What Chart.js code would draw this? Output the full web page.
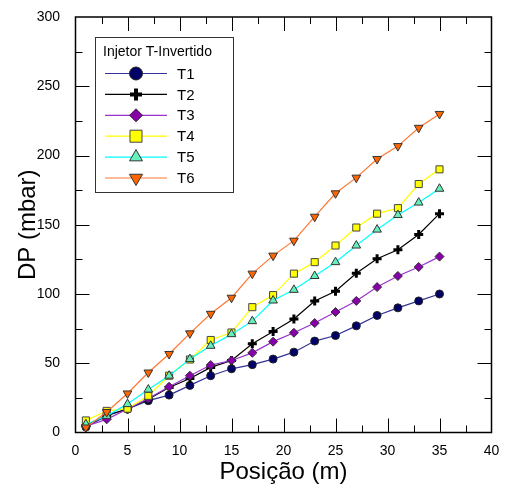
<!DOCTYPE html>
<html lang="pt-br">
<head>
    <meta charset="UTF-8">
    <title>DP x Posição</title>
    <script src="https://cdn.jsdelivr.net/npm/chart.js"></script>
    <style>
        html, body { margin: 0; padding: 0; background: #fff; }
        canvas { display: block; }
    </style>
</head>
<body>
    <canvas id="grafico" width="505" height="487"></canvas>
<script>
    // dados
    const posicoes = [1, 3, 5, 7, 9, 11, 13, 15, 17, 19, 21, 23, 25, 27, 29, 31, 33, 35]
    const t1 = [4, 12, 17, 23, 27, 34, 41, 46, 49, 53, 58, 66, 70, 77, 84.5, 90, 95, 100]
    const t2 = [5, 12.5, 17, 24, 32.5, 39, 47, 52, 64, 73, 82, 95, 102, 115, 125.5, 132, 143, 158]
    const t3 = [4.5, 9.5, 17, 24.5, 33, 41, 48.7, 52, 57.5, 65.6, 72, 79, 87, 95, 105, 113, 119.5, 127]
    const t4 = [8.7, 15.6, 17.2, 26.5, 41, 52.7, 66.8, 72.2, 90.5, 99.2, 114.7, 123, 135, 148, 158, 162, 179.4, 190]
    const t5 = [6, 12, 20.5, 31, 41, 53, 62.6, 71, 80.4, 95.3, 103, 113, 123, 135, 146.5, 157, 166, 176]
    const t6 = [3.6, 14.8, 28.2, 43.3, 56.7, 71.6, 85.7, 97.3, 114.7, 127.7, 138.5, 155.8, 172.7, 184, 197.5, 206.8, 220, 230]

    const nomes = ['T1', 'T2', 'T3', 'T4', 'T5', 'T6']
    const valores = [t1, t2, t3, t4, t5, t6]
    const xTicks = [0, 5, 10, 15, 20, 25, 30, 35, 40]
    const yTicks = [0, 50, 100, 150, 200, 250, 300]
    const tituloLegenda = 'Injetor T-Invertido'

    const fonte = '"Liberation Sans", Arial, sans-serif'

    // estilo de cada serie
    const estilos = [
        { linha: '#333399', fundo: '#000066', borda: '#222', ponto: 'circle', raio: 4, rot: 0, bw: 1, legRaio: 6.5, legBw: 1 },
        { linha: '#000000', fundo: '#000000', borda: '#000', ponto: 'cross', raio: 4.5, rot: 0, bw: 3, legRaio: 6, legBw: 4 },
        { linha: '#9933cc', fundo: '#8800aa', borda: '#333', ponto: 'rectRot', raio: 4.5, rot: 0, bw: 1, legRaio: 6.5, legBw: 1 },
        { linha: '#ffff00', fundo: '#ffff00', borda: '#444', ponto: 'rect', raio: 5, rot: 0, bw: 1, legRaio: 8.5, legBw: 1 },
        { linha: '#00ffff', fundo: '#66eebb', borda: '#333', ponto: 'triangle', raio: 5, rot: 0, bw: 1, legRaio: 7.5, legBw: 1 },
        { linha: '#ff7733', fundo: '#ff6600', borda: '#333', ponto: 'triangle', raio: 5, rot: 180, bw: 1, legRaio: 7.5, legBw: 1 }
    ]

    const datasets = nomes.map(function (nome, i) {
        const e = estilos[i]
        return {
            label: nome,
            data: posicoes.map((p, j) => ({ x: p, y: valores[i][j] })),
            borderColor: e.linha,
            borderWidth: 1.2,
            backgroundColor: e.fundo,
            pointStyle: e.ponto,
            pointRadius: e.raio,
            pointRotation: e.rot,
            pointBackgroundColor: e.fundo,
            pointBorderColor: e.ponto == 'cross' ? '#000' : e.borda,
            pointBorderWidth: e.bw,
            tension: 0,
            order: nomes.length - i
        }
    })

    // moldura e tracinhos para dentro nos quatro lados
    const moldura = {
        id: 'moldura',
        afterDraw(chart) {
            const ctx = chart.ctx
            const a = chart.chartArea
            const sx = chart.scales.x
            const sy = chart.scales.y
            ctx.save()
            ctx.strokeStyle = '#000'
            ctx.lineWidth = 1
            for (let v = 2.5; v < 40; v += 2.5) {
                const px = Math.round(sx.getPixelForValue(v)) + 0.5
                const len = v % 5 == 0 ? 14 : 7
                ctx.beginPath()
                ctx.moveTo(px, a.bottom); ctx.lineTo(px, a.bottom - len)
                ctx.moveTo(px, a.top); ctx.lineTo(px, a.top + len)
                ctx.stroke()
            }
            for (let v = 25; v < 300; v += 25) {
                const py = Math.round(sy.getPixelForValue(v)) + 0.5
                const len = v % 50 == 0 ? 14 : 7
                ctx.beginPath()
                ctx.moveTo(a.left, py); ctx.lineTo(a.left + len, py)
                ctx.moveTo(a.right, py); ctx.lineTo(a.right - len, py)
                ctx.stroke()
            }
            ctx.lineWidth = 1.5
            ctx.strokeRect(a.left, a.top, a.right - a.left, a.bottom - a.top)
            ctx.restore()
        }
    }

    // legenda com caixa dentro da area do grafico
    const legenda = {
        id: 'legenda',
        afterDraw(chart) {
            const ctx = chart.ctx
            const x0 = 95, y0 = 37, w = 138, h = 155
            ctx.save()
            ctx.fillStyle = '#fff'
            ctx.fillRect(x0, y0, w, h)
            ctx.strokeStyle = '#333'
            ctx.lineWidth = 1
            ctx.strokeRect(x0 + 0.5, y0 + 0.5, w, h)
            ctx.fillStyle = '#000'
            ctx.font = '14px ' + fonte
            ctx.textBaseline = 'middle'
            ctx.textAlign = 'left'
            ctx.fillText(tituloLegenda, x0 + 8, y0 + 15)
            for (let i = 0; i < nomes.length; i++) {
                const e = estilos[i]
                const yy = y0 + 36.5 + i * 20.9
                ctx.strokeStyle = e.linha
                ctx.lineWidth = 1.2
                ctx.beginPath()
                ctx.moveTo(105, yy); ctx.lineTo(167, yy)
                ctx.stroke()
                ctx.fillStyle = e.fundo
                ctx.strokeStyle = e.ponto == 'cross' ? '#000' : e.borda
                ctx.lineWidth = e.legBw
                Chart.helpers.drawPoint(ctx, { pointStyle: e.ponto, radius: e.legRaio, rotation: e.rot, borderWidth: e.legBw }, 136, yy)
                ctx.fillStyle = '#000'
                ctx.font = '15px ' + fonte
                ctx.fillText(nomes[i], 177, yy + 1)
            }
            ctx.restore()
        }
    }

    new Chart(document.getElementById('grafico'), {
        type: 'line',
        data: { datasets: datasets },
        options: {
            responsive: false,
            animation: false,
            devicePixelRatio: 1,
            layout: { padding: { top: 17, right: 13.5, left: 0, bottom: 0 } },
            plugins: {
                legend: { display: false },
                tooltip: { enabled: false }
            },
            scales: {
                x: {
                    type: 'linear',
                    min: 0,
                    max: 40,
                    afterBuildTicks: function (s) { s.ticks = xTicks.map(v => ({ value: v })) },
                    afterFit: function (s) { s.height = 54.5 },
                    grid: { display: false },
                    border: { display: false },
                    ticks: { color: '#000', padding: 2, maxRotation: 0, font: { family: fonte, size: 14 } },
                    title: { display: true, text: 'Posição (m)', color: '#000', padding: 0, font: { family: fonte, size: 24 } }
                },
                y: {
                    type: 'linear',
                    min: 0,
                    max: 300,
                    afterBuildTicks: function (s) { s.ticks = yTicks.map(v => ({ value: v })) },
                    afterFit: function (s) { s.width = 75.5 },
                    grid: { display: false },
                    border: { display: false },
                    ticks: { color: '#000', padding: 7.5, font: { family: fonte, size: 14 } },
                    title: { display: true, text: 'DP (mbar)', color: '#000', padding: { top: 14, bottom: 0 }, font: { family: fonte, size: 24 } }
                }
            }
        },
        plugins: [moldura, legenda]
    })
</script>
</body>
</html>
